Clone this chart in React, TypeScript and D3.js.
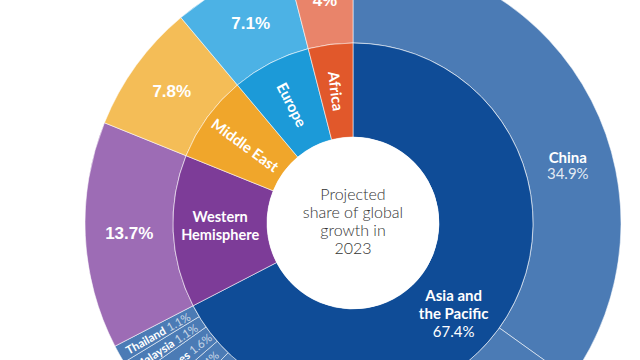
import React from "react";
import * as d3 from "d3";

const regions = ["Asia and the Pacific", "Western Hemisphere", "Middle East", "Europe", "Africa"];
const regionShares = [67.4, 13.7, 7.8, 7.1, 4.0];
const regionLabelLines = [["Asia and", "the Pacific"], ["Western", "Hemisphere"], ["Middle East"], ["Europe"], ["Africa"]];
const regionInner = ["#0f4c97", "#7d3c98", "#f0a62b", "#1c9ad8", "#e1582b"];
const regionOuter = ["#4b7bb5", "#9d6cb5", "#f4bd57", "#4cb2e5", "#e9846a"];

const asiaCountries = ["China", "India", "Other Asia", "Indonesia", "Vietnam", "Philippines", "Malaysia", "Thailand"];
const asiaShares = [34.9, 15.4, 9.0, 2.9, 1.4, 1.6, 1.1, 1.1];

const centerLines = ["Projected", "share of global", "growth in", "2023"];

const W = 640, H = 360;
const CX = 353, CY = 223;
const R0 = 86, R1 = 180, R2 = 268;

export default function App() {
  const pie = d3.pie<number>().sort(null).value((d) => d).startAngle(0).endAngle(2 * Math.PI);
  const innerArcs = pie(regionShares);

  const outerVals: { v: number; region: number; name: string | null }[] = [];
  asiaCountries.forEach((n, i) => outerVals.push({ v: asiaShares[i], region: 0, name: n }));
  for (let r = 1; r < regions.length; r++) outerVals.push({ v: regionShares[r], region: r, name: null });
  const outerPie = d3.pie<any>().sort(null).value((d: any) => d.v).startAngle(0).endAngle(2 * Math.PI);
  const outerArcs = outerPie(outerVals);

  const arcIn = d3.arc<any>().innerRadius(R0).outerRadius(R1);
  const arcOut = d3.arc<any>().innerRadius(R1).outerRadius(R2);

  const polar = (a: number, r: number) => [Math.sin(a) * r, -Math.cos(a) * r];
  const fmt = (v: number) => (Number.isInteger(v) ? `${v}%` : `${v.toFixed(1)}%`);
  const deg = (a: number) => (a * 180) / Math.PI;

  const stroke = "rgba(255,255,255,0.55)";
  const font = "Lato, 'Open Sans', sans-serif";

  return (
    <svg width={W} height={H} style={{ position: "absolute", left: 0, top: 0 }} fontFamily={font}>
      <rect width={W} height={H} fill="#ffffff" />
      <g transform={`translate(${CX},${CY})`}>
        {outerArcs.map((a, i) => (
          <path key={"o" + i} d={arcOut(a) as string} fill={regionOuter[a.data.region]} stroke={stroke} strokeWidth={1} />
        ))}
        {innerArcs.map((a, i) => (
          <path key={"i" + i} d={arcIn(a) as string} fill={regionInner[i]} stroke={stroke} strokeWidth={1} />
        ))}

        {/* inner ring labels */}
        {innerArcs.map((a, i) => {
          const lines = regionLabelLines[i];
          const rm = (R0 + R1) / 2;
          if (i === 0) {
            const ang = a.startAngle + (a.endAngle - a.startAngle) * 0.545;
            const [x, y] = polar(ang, rm + 3);
            return (
              <text key={"il" + i} x={x} y={y} textAnchor="middle" fill="#fff" fontSize={15}>
                <tspan x={x} dy={-13} fontWeight={700}>{lines[0]}</tspan>
                <tspan x={x} dy={18} fontWeight={700}>{lines[1]}</tspan>
                <tspan x={x} dy={18} fontWeight={400}>{fmt(regionShares[i])}</tspan>
              </text>
            );
          }
          const ang = (a.startAngle + a.endAngle) / 2;
          const [x, y] = polar(ang, rm);
          if (lines.length === 2) {
            return (
              <text key={"il" + i} x={x} y={y} textAnchor="middle" fill="#fff" fontSize={14.5} fontWeight={700}>
                <tspan x={x} dy={-7}>{lines[0]}</tspan>
                <tspan x={x} dy={18}>{lines[1]}</tspan>
              </text>
            );
          }
          return (
            <text key={"il" + i} transform={`translate(${x},${y}) rotate(${deg(ang) - 270})`} textAnchor="middle"
              dominantBaseline="central" fill="#fff" fontSize={15} fontWeight={700}>
              {lines[0]}
            </text>
          );
        })}

        {/* outer ring labels */}
        {outerArcs.map((a, i) => {
          const d = a.data;
          const rm = (R1 + R2) / 2;
          if (d.name === null) {
            const ang = (a.startAngle + a.endAngle) / 2;
            const [x, y] = polar(ang, rm);
            return (
              <text key={"ol" + i} x={x} y={y} textAnchor="middle" dominantBaseline="central" fill="#fff"
                fontSize={17} fontWeight={700} fontFamily="'Liberation Sans', Arial, sans-serif">
                {fmt(d.v)}
              </text>
            );
          }
          if (i === 0) {
            const ang = a.startAngle + (a.endAngle - a.startAngle) * 0.6;
            const [x, y] = polar(ang, rm - 2);
            return (
              <text key={"ol" + i} x={x} y={y} textAnchor="middle" fill="#fff" fontSize={15}>
                <tspan x={x} dy={-4} fontWeight={700}>{d.name}</tspan>
                <tspan x={x} dy={16} fontWeight={400} fill="rgba(255,255,255,0.85)">{fmt(d.v)}</tspan>
              </text>
            );
          }
          const ang = (a.startAngle + a.endAngle) / 2;
          const [x, y] = polar(ang, rm);
          // skip labels that lie entirely outside the visible frame
          if (y + CY > H + 30 || x + CX < -30 || x + CX > W + 30) return null;
          const rot = deg(ang) > 180 ? deg(ang) - 270 : deg(ang) - 90;
          return (
            <text key={"ol" + i} transform={`translate(${x},${y}) rotate(${rot})`} textAnchor="middle"
              dominantBaseline="central" fill="#fff" fontSize={11.5}>
              <tspan fontWeight={700}>{d.name}</tspan>
              <tspan fontWeight={400} fill="rgba(255,255,255,0.7)">{" " + fmt(d.v)}</tspan>
            </text>
          );
        })}

        <circle r={R0} fill="#ffffff" />
        <text textAnchor="middle" fill="#333333" fontSize={16} fontWeight={300}>
          {centerLines.map((l, i) => (
            <tspan key={i} x={0} y={-23 + i * 18}>{l}</tspan>
          ))}
        </text>
      </g>
    </svg>
  );
}
